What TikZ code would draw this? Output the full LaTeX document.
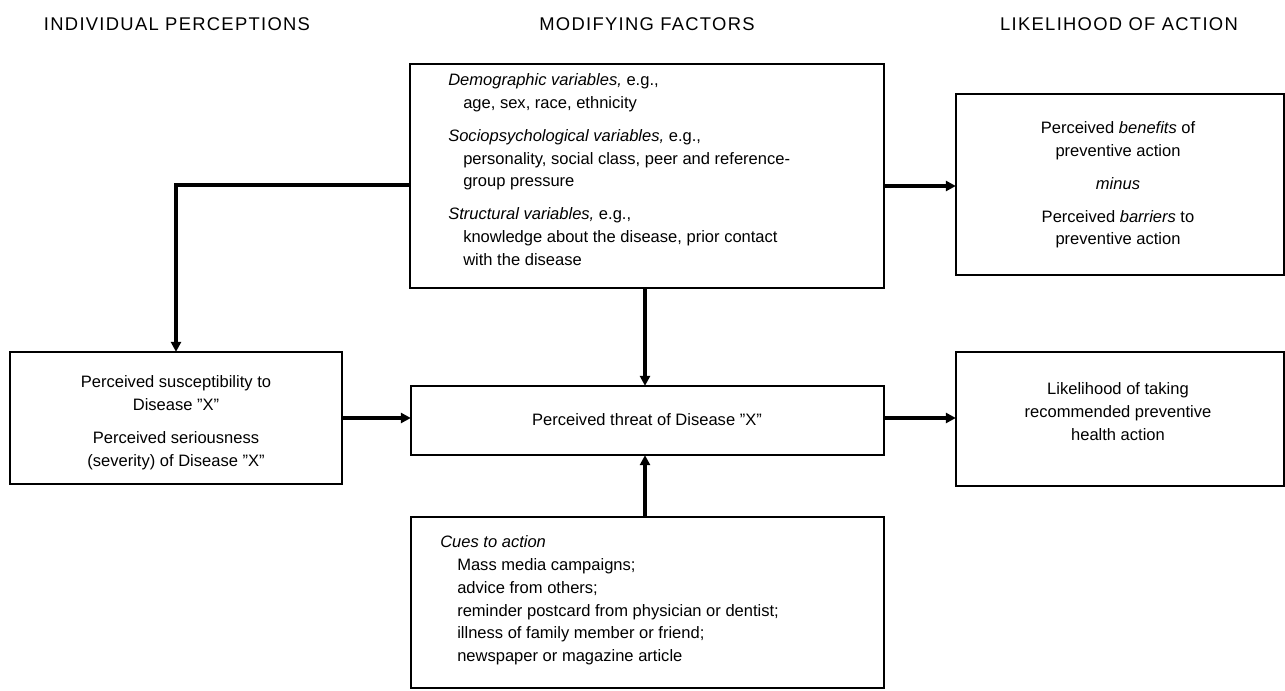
\documentclass[tikz,border=0pt]{standalone}
\usepackage{fontspec}
\setmainfont{Liberation Sans}
\usetikzlibrary{arrows.meta}

\begin{document}
\begin{tikzpicture}[x=0.75pt,y=-0.75pt,
  box/.style={draw, line width=0.85pt, inner sep=0pt},
  conn/.style={line width=2.6pt, -{Triangle[length=7.5pt,width=7.5pt]}, shorten >=-0.3pt},
  body/.style={inner sep=0pt, font=\fontsize{12.4}{17.2}\selectfont},
  head/.style={inner sep=0pt, font=\fontsize{13.8}{16}\selectfont\addfontfeatures{LetterSpace=7}}]
\useasboundingbox (0,0) rectangle (1285,691);

% column headings
\node[head] (h1) at (177,24) {INDIVIDUAL PERCEPTIONS};
\node[head] (h2) at (647,24) {MODIFYING FACTORS};
\node[head] (h3) at (1119,24) {LIKELIHOOD OF ACTION};

% boxes
\node[box, minimum width=355.5pt, minimum height=168pt] (mods) at (647,176) {};
\node[box, minimum width=354.75pt, minimum height=51.75pt] (threat) at (647.5,420.5) {};
\node[box, minimum width=354.75pt, minimum height=128.25pt] (cues) at (647.5,602.5) {};
\node[box, minimum width=249pt, minimum height=99pt] (percep) at (176,418) {};
\node[box, minimum width=246pt, minimum height=135.75pt] (benef) at (1120,184.5) {};
\node[box, minimum width=246pt, minimum height=100.5pt] (likely) at (1120,419) {};

% box texts
\node[body, anchor=north west, align=left] (modstxt) at (448,73) {%
  \textit{Demographic variables,} e.g.,\\
  \hspace*{11.25pt}age, sex, race, ethnicity\\[7.5pt]
  \textit{Sociopsychological variables,} e.g.,\\
  \hspace*{11.25pt}personality, social class, peer and reference-\\
  \hspace*{11.25pt}group pressure\\[7.5pt]
  \textit{Structural variables,} e.g.,\\
  \hspace*{11.25pt}knowledge about the disease, prior contact\\
  \hspace*{11.25pt}with the disease};

\node[body] (threattxt) at (647,420) {Perceived threat of Disease ”X”};

\node[body, anchor=north west, align=left] (cuestxt) at (440,535) {%
  \textit{Cues to action}\\
  \hspace*{12.75pt}Mass media campaigns;\\
  \hspace*{12.75pt}advice from others;\\
  \hspace*{12.75pt}reminder postcard from physician or dentist;\\
  \hspace*{12.75pt}illness of family member or friend;\\
  \hspace*{12.75pt}newspaper or magazine article};

\node[body, anchor=north, align=center] (perceptxt) at (176,375) {%
  Perceived susceptibility to\\
  Disease ”X”\\[8pt]
  Perceived seriousness\\
  (severity) of Disease ”X”};

\node[body, anchor=north, align=center] (beneftxt) at (1118,121) {%
  Perceived \textit{benefits} of\\
  preventive action\\[7.5pt]
  \textit{minus}\\[7.5pt]
  Perceived \textit{barriers} to\\
  preventive action};

\node[body, anchor=north, align=center] (likelytxt) at (1118,382) {%
  Likelihood of taking\\
  recommended preventive\\
  health action};

% connectors
\draw[conn] (mods.west |- 0,185) -| (percep.north);
\draw[conn] (mods.east |- 0,186) -- (benef.west |- 0,186);
\draw[conn] (mods.south -| 645,0) -- (threat.north -| 645,0);
\draw[conn] (cues.north -| 645,0) -- (threat.south -| 645,0);
\draw[conn] (percep.east |- 0,418) -- (threat.west |- 0,418);
\draw[conn] (threat.east |- 0,418) -- (likely.west |- 0,418);
\end{tikzpicture}
\end{document}
